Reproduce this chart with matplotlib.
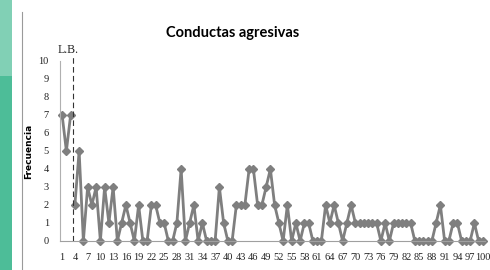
import matplotlib
matplotlib.use("Agg")
import matplotlib.pyplot as plt
from matplotlib.patches import Rectangle
import numpy as np

# sessions and frequency of aggressive behaviour
sesiones = list(range(1, 101))
frecuencia = [7, 5, 7, 2, 5, 0, 3, 2, 3, 0,
              3, 1, 3, 0, 1, 2, 1, 0, 2, 0,
              0, 2, 2, 1, 1, 0, 0, 1, 4, 0,
              1, 2, 0, 1, 0, 0, 0, 3, 1, 0,
              0, 2, 2, 2, 4, 4, 2, 2, 3, 4,
              2, 1, 0, 2, 0, 1, 0, 1, 1, 0,
              0, 0, 2, 1, 2, 1, 0, 1, 2, 1,
              1, 1, 1, 1, 1, 0, 1, 0, 1, 1,
              1, 1, 1, 0, 0, 0, 0, 0, 1, 2,
              0, 0, 1, 1, 0, 0, 0, 1, 0, 0]
x_ticks = list(range(1, 101, 3))
y_ticks = list(range(0, 11))
fase_corte = 3.65   # phase change line (L.B. = linea base)

gris = "#7f7f7f"
serif = ["Liberation Serif", "DejaVu Serif"]

fig = plt.figure(figsize=(4.9, 2.7), dpi=100)
fig.patch.set_facecolor("white")

# slide decoration on the left
fig.patches.append(Rectangle((0, 0), 12 / 490, 1, transform=fig.transFigure,
                             facecolor="#4dbd98", edgecolor="none"))
fig.patches.append(Rectangle((0, 0.72), 12 / 490, 0.28, transform=fig.transFigure,
                             facecolor="#8fd6bd", edgecolor="none", alpha=0.8))
fig.lines.append(plt.Line2D([22 / 490, 22 / 490], [0, 1 - 12 / 270],
                            transform=fig.transFigure, color="#9a9a9a", lw=0.8))

ax = fig.add_axes([60 / 490, 1 - 241 / 270, 425 / 490, 180 / 270])

x = np.array(sesiones)
y = np.array(frecuencia)
# baseline and intervention drawn separately (no line across the phase change)
ax.plot(x[:3], y[:3], color=gris, lw=2, marker="D", ms=4.2, clip_on=False)
ax.plot(x[3:], y[3:], color=gris, lw=2, marker="D", ms=4.2, clip_on=False)

ax.plot([fase_corte, fase_corte], [0, 10.2], color="#333333", lw=0.8,
        ls=(0, (5, 3)), clip_on=False)
ax.text(2.4, 10.3, "L.B.", ha="center", va="bottom",
        fontsize=8.5, family=serif, color="#222222")

ax.set_xlim(0.5, 100.5)
ax.set_ylim(0, 10)
ax.set_xticks(x_ticks)
ax.set_yticks(y_ticks)
ax.tick_params(length=0, labelsize=7.5)
ax.tick_params(axis="x", pad=9)
ax.tick_params(axis="y", pad=8)
for lab in ax.get_xticklabels() + ax.get_yticklabels():
    lab.set_family(serif)
    lab.set_color("#222222")

for s in ["top", "right"]:
    ax.spines[s].set_visible(False)
ax.spines["left"].set_color("#b0b0b0")
ax.spines["bottom"].set_color("#a0a0a0")

ax.set_ylabel("Frecuencia", fontsize=6.5, fontweight="bold")
ax.yaxis.set_label_coords(-0.064, 0.5)

fig.text(233 / 490, 1 - 33 / 270, "Conductas agresivas", ha="center", va="center",
         fontsize=10.5, fontweight="bold", family=["Lato", "DejaVu Sans"])

plt.savefig("out.png", dpi=100)
